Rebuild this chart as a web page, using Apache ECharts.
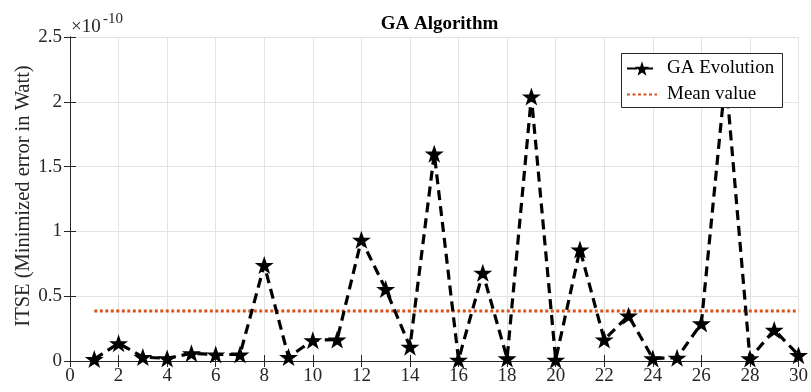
<!DOCTYPE html>
<html>
<head>
<meta charset="utf-8">
<script src="https://cdn.jsdelivr.net/npm/echarts@6/dist/echarts.min.js"></script>
<style>html,body{margin:0;padding:0;background:#fff}#c{width:811px;height:392px}</style>
</head>
<body>
<div id="c"></div>
<script>
// Data (values in units of 1e-10)
var iterations = [1,2,3,4,5,6,7,8,9,10,11,12,13,14,15,16,17,18,19,20,21,22,23,24,25,26,27,28,29,30];
var gaEvolution = [0.015,0.137,0.03,0.02,0.06,0.05,0.05,0.74,0.03,0.16,0.165,0.935,0.555,0.11,1.60,0.01,0.68,0.02,2.04,0.01,0.86,0.165,0.35,0.02,0.025,0.29,2.20,0.02,0.24,0.045];
var meanValue = 0.386;
var meanRange = [1, 30];
var xTicks = {min: 0, max: 30, interval: 2};
var yTicks = {min: 0, max: 2.5, interval: 0.5};

var font = 'Liberation Serif, Times New Roman, serif';
var axisColor = '#262626';
var star = 'path://M50,0 L61.8,35.1 L97.6,35.1 L68.7,56.8 L79.4,91 L50,70 L20.6,91 L31.3,56.8 L2.4,35.1 L38.2,35.1 Z';

var chart = echarts.init(document.getElementById('c'), null, {renderer: 'canvas'});
var gridL = 70, gridT = 37, gridR = 12, gridB = 31;

chart.setOption({
  animation: false,
  backgroundColor: '#fff',
  title: {
    text: 'GA Algorithm', left: 434.5, textAlign: 'center', top: 10,
    textStyle: {fontFamily: font, fontWeight: 'bold', fontSize: 19, color: '#000'}
  },
  grid: {left: gridL, top: gridT, right: gridR, bottom: gridB, containLabel: false},
  legend: {
    left: 621, top: 53, orient: 'vertical', z: 20,
    padding: [6, 0, 3, 5], itemGap: 7, itemWidth: 30, itemHeight: 18,
    textStyle: {fontFamily: font, fontSize: 19, color: '#000', padding: [0,0,0,5]},
    data: [{name: 'GA Evolution'}, {name: 'Mean value', itemStyle: {opacity: 0}}]
  },
  xAxis: [{
    type: 'value', min: xTicks.min, max: xTicks.max, interval: xTicks.interval,
    axisLine: {lineStyle: {color: axisColor, width: 1}},
    axisTick: {inside: true, length: 6, lineStyle: {color: axisColor}},
    axisLabel: {fontFamily: font, fontSize: 19, color: axisColor, margin: 6},
    splitLine: {show: true, lineStyle: {color: '#e3e3e3', width: 1}}
  }, {
    type: 'value', position: 'top', min: xTicks.min, max: xTicks.max, interval: xTicks.interval,
    axisLine: {show: true, lineStyle: {color: axisColor, width: 1}},
    axisTick: {show: true, inside: true, length: 6, lineStyle: {color: axisColor}},
    axisLabel: {show: false}, splitLine: {show: false}
  }],
  yAxis: [{
    type: 'value', min: yTicks.min, max: yTicks.max, interval: yTicks.interval,
    axisLine: {show: true, lineStyle: {color: axisColor, width: 1}},
    axisTick: {show: true, inside: true, length: 6, lineStyle: {color: axisColor}},
    axisLabel: {fontFamily: font, fontSize: 19, color: axisColor, margin: 8},
    splitLine: {show: true, lineStyle: {color: '#e3e3e3', width: 1}}
  }, {
    type: 'value', position: 'right', min: yTicks.min, max: yTicks.max, interval: yTicks.interval,
    axisLine: {show: true, lineStyle: {color: axisColor, width: 1}},
    axisTick: {show: true, inside: true, length: 6, lineStyle: {color: axisColor}},
    axisLabel: {show: false}, splitLine: {show: false}
  }],
  graphic: [
    {type: 'text', left: 71, top: 18, style: {text: '×10', fontFamily: font, fontSize: 19, fill: axisColor}},
    {type: 'text', left: 103, top: 12, style: {text: '-10', fontFamily: font, fontSize: 15, fill: axisColor}},
    {type: 'text', x: 24, y: 196, rotation: Math.PI / 2,
     style: {text: 'ITSE (Minimized error in Watt)', fontFamily: font, fontSize: 20.5, fill: axisColor,
             align: 'center', verticalAlign: 'middle'}},
    {type: 'rect', z: 10, shape: {x: 621.5, y: 53.5, width: 161, height: 54},
     style: {fill: '#fff', stroke: axisColor, lineWidth: 1}}
  ],
  series: [{
    name: 'GA Evolution', type: 'line', z: 3,
    data: iterations.map(function (x, i) { return [x, gaEvolution[i]]; }),
    symbol: star, symbolSize: [19, 18], showAllSymbol: true,
    itemStyle: {color: '#000'},
    lineStyle: {color: '#000', width: 3.2, type: [10, 6]}
  }, {
    name: 'Mean value', type: 'line', z: 2,
    data: meanRange.map(function (x) { return [x, meanValue]; }),
    symbol: 'none',
    itemStyle: {color: '#D95319'},
    lineStyle: {color: '#D95319', width: 3, type: [3, 2.5]}
  }]
});
</script>
</body>
</html>
